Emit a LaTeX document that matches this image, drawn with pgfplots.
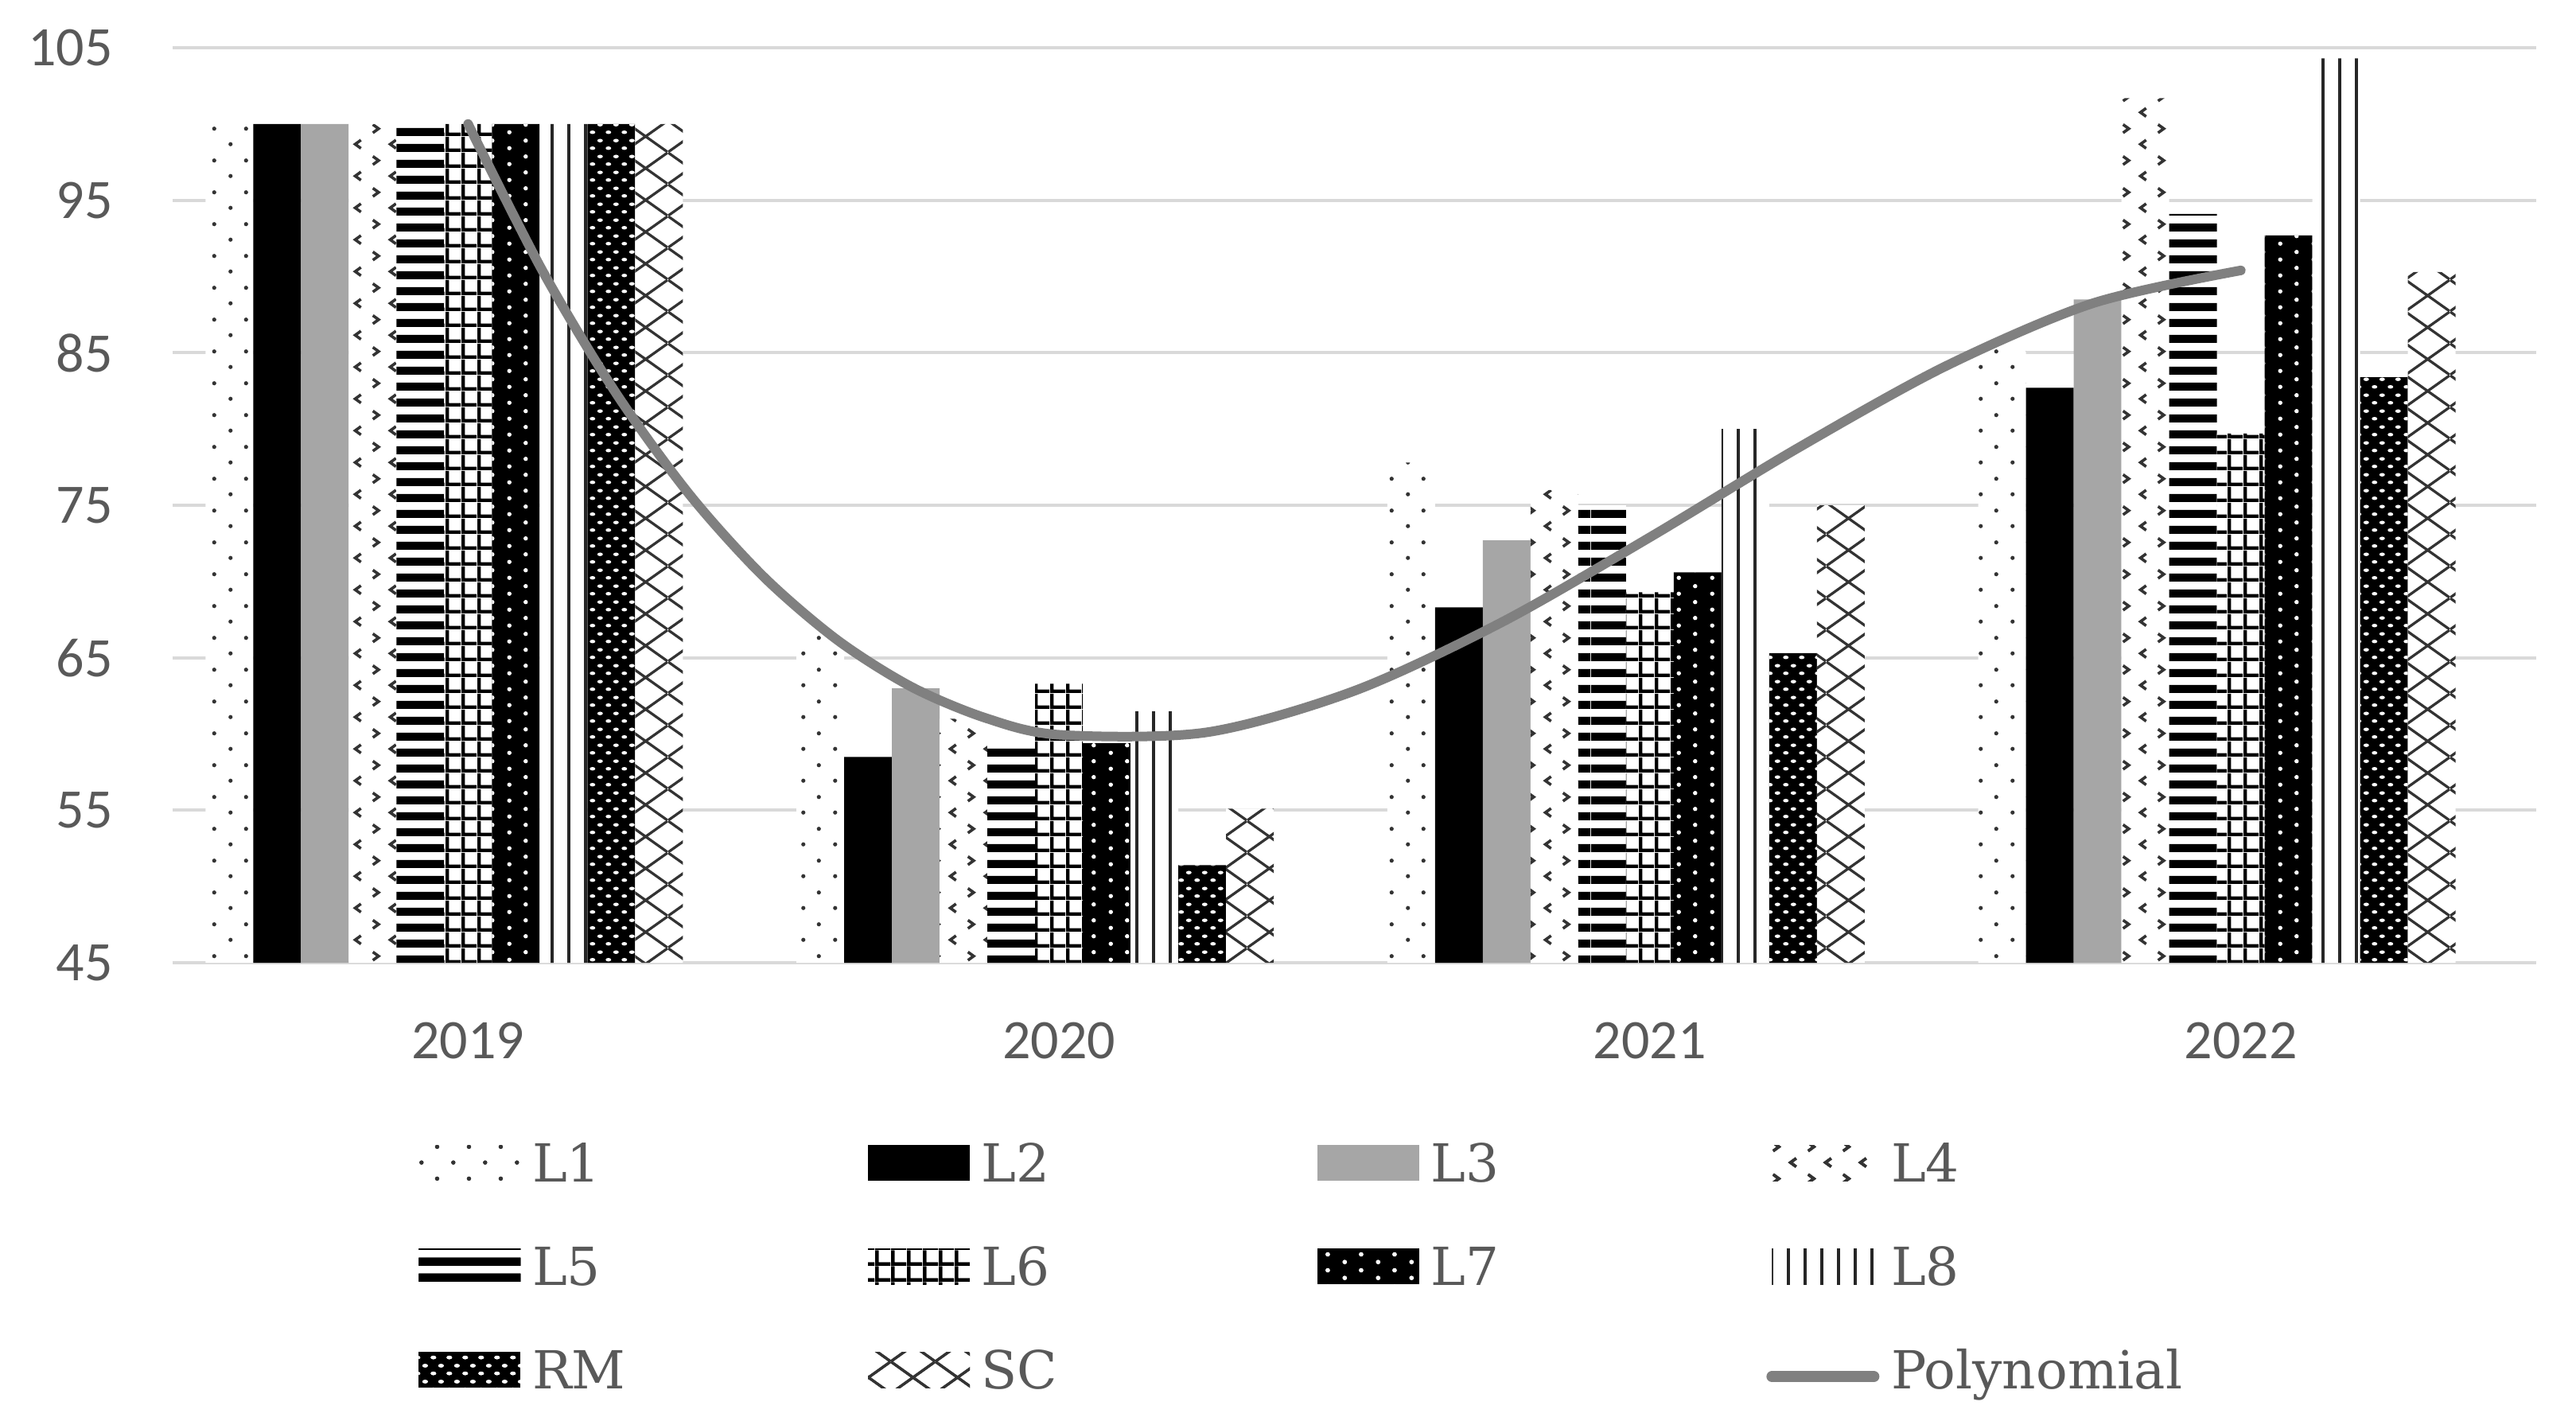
\documentclass[border=0pt]{standalone}
\usepackage{fontspec}
\usepackage{pgfplots}
\pgfplotsset{compat=1.18}
\usetikzlibrary{patterns.meta}
\newfontfamily\tickfont{Carlito}
\newfontfamily\legfont{DejaVu Serif}
\definecolor{gridc}{HTML}{D9D9D9}
\definecolor{txt}{HTML}{595959}
\definecolor{lthree}{HTML}{A6A6A6}
\definecolor{poly}{HTML}{808080}
\definecolor{pat}{HTML}{333333}

% L1 sparse staggered dots
\pgfdeclarepattern{name=pLa, type=uncolored,
  bottom left={\pgfpoint{0pt}{0pt}}, top right={\pgfpoint{6pt}{6pt}},
  tile size={\pgfpoint{6pt}{6pt}},
  code={\pgfpathcircle{\pgfpoint{1.5pt}{1.5pt}}{0.4pt}%
        \pgfpathcircle{\pgfpoint{4.5pt}{4.5pt}}{0.4pt}\pgfusepath{fill}}}
% L4 chevrons
\pgfdeclarepattern{name=pLd, type=uncolored,
  bottom left={\pgfpoint{0pt}{0pt}}, top right={\pgfpoint{6.6pt}{6pt}},
  tile size={\pgfpoint{6.6pt}{6pt}},
  code={\pgfsetlinewidth{0.55pt}%
   \pgfpathmoveto{\pgfpoint{2.1pt}{2.3pt}}\pgfpathlineto{\pgfpoint{1.0pt}{1.5pt}}\pgfpathlineto{\pgfpoint{2.1pt}{0.7pt}}%
   \pgfpathmoveto{\pgfpoint{4.4pt}{5.3pt}}\pgfpathlineto{\pgfpoint{5.5pt}{4.5pt}}\pgfpathlineto{\pgfpoint{4.4pt}{3.7pt}}%
   \pgfusepath{stroke}}}
% L5 horizontal stripes (wide tile to avoid seams)
\pgfdeclarepattern{name=pLe, type=uncolored,
  bottom left={\pgfpoint{0pt}{0pt}}, top right={\pgfpoint{60pt}{3pt}},
  tile size={\pgfpoint{60pt}{3pt}},
  code={\pgfpathrectangle{\pgfpoint{0pt}{0pt}}{\pgfpoint{60pt}{1.6pt}}\pgfusepath{fill}}}
% L6 grid
\pgfdeclarepattern{name=pLf, type=uncolored,
  bottom left={\pgfpoint{0pt}{0pt}}, top right={\pgfpoint{3pt}{3pt}},
  tile size={\pgfpoint{3pt}{3pt}},
  code={\pgfpathrectangle{\pgfpoint{0pt}{0pt}}{\pgfpoint{3pt}{0.7pt}}%
        \pgfpathrectangle{\pgfpoint{0pt}{0pt}}{\pgfpoint{0.7pt}{3pt}}\pgfusepath{fill}}}
% L7 white dots on black
\pgfdeclarepattern{name=pLg, type=uncolored,
  bottom left={\pgfpoint{0pt}{0pt}}, top right={\pgfpoint{6.3pt}{3pt}},
  tile size={\pgfpoint{6.3pt}{3pt}},
  code={\pgfpathcircle{\pgfpoint{1.575pt}{0.75pt}}{0.42pt}%
        \pgfpathcircle{\pgfpoint{4.725pt}{2.25pt}}{0.42pt}\pgfusepath{fill}}}
% L8 vertical lines (tall tile to avoid seams)
\pgfdeclarepattern{name=pLh, type=uncolored,
  bottom left={\pgfpoint{0pt}{0pt}}, top right={\pgfpoint{3.15pt}{60pt}},
  tile size={\pgfpoint{3.15pt}{60pt}},
  code={\pgfpathrectangle{\pgfpoint{0pt}{0pt}}{\pgfpoint{0.6pt}{60pt}}\pgfusepath{fill}}}
% RM dense white ovals on black
\pgfdeclarepattern{name=pRM, type=uncolored,
  bottom left={\pgfpoint{0pt}{0pt}}, top right={\pgfpoint{3pt}{3pt}},
  tile size={\pgfpoint{3pt}{3pt}},
  code={\pgfpathellipse{\pgfpoint{0.75pt}{0.75pt}}{\pgfpoint{0.55pt}{0pt}}{\pgfpoint{0pt}{0.35pt}}%
        \pgfpathellipse{\pgfpoint{2.25pt}{2.25pt}}{\pgfpoint{0.55pt}{0pt}}{\pgfpoint{0pt}{0.35pt}}\pgfusepath{fill}}}
% SC diamond lattice
\pgfdeclarepattern{name=pSC, type=uncolored,
  bottom left={\pgfpoint{0pt}{0pt}}, top right={\pgfpoint{8.4pt}{6pt}},
  tile size={\pgfpoint{8.4pt}{6pt}},
  code={\pgfsetlinewidth{0.5pt}%
   \pgfpathmoveto{\pgfpoint{0pt}{0pt}}\pgfpathlineto{\pgfpoint{8.4pt}{6pt}}%
   \pgfpathmoveto{\pgfpoint{0pt}{6pt}}\pgfpathlineto{\pgfpoint{8.4pt}{0pt}}\pgfusepath{stroke}}}

\tikzset{
  sLa/.style={fill=white, postaction={pattern=pLa, pattern color=pat}},
  sLb/.style={fill=black},
  sLc/.style={fill=lthree},
  sLd/.style={fill=white, postaction={pattern=pLd, pattern color=pat}},
  sLe/.style={fill=white, postaction={pattern=pLe, pattern color=black}},
  sLf/.style={fill=white, postaction={pattern=pLf, pattern color=black}},
  sLg/.style={fill=black, postaction={pattern=pLg, pattern color=white}},
  sLh/.style={fill=white, postaction={pattern=pLh, pattern color=black!85}},
  sRM/.style={fill=black, postaction={pattern=pRM, pattern color=white}},
  sSC/.style={fill=white, postaction={pattern=pSC, pattern color=pat}},
}
\pgfplotsset{
  bs/.style={ybar, bar width=0.08078, bar shift=#1, draw=none},
  pleg/.style={legend image code/.code={\fill[#1] (0pt,-2.4pt) rectangle (19.2pt,4.35pt);}},
}
\newcommand{\legtxt}[1]{\makebox[65.5pt][l]{\hspace{2.2pt}#1}}

\begin{document}
\begin{tikzpicture}
\begin{axis}[
  at={(0,0)}, anchor=south west,
  scale only axis, width=445.65pt, height=172.5pt,
  xmin=-0.5, xmax=3.5, ymin=45, ymax=105,
  enlargelimits=false,
  xtick={0,1,2,3}, xticklabels={2019,2020,2021,2022},
  ytick={45,55,65,75,85,95,105},
  /pgf/number format/assume math mode=true,
  tick label style={font=\tickfont\fontsize{10.5}{12}\selectfont, text=txt},
  yticklabel style={anchor=east, inner sep=0pt, xshift=-11.1pt},
  xticklabel style={anchor=north, inner sep=0pt, yshift=-11pt},
  major tick length=0pt, tick style={draw=none},
  axis line style={draw=none},
  ymajorgrids, major grid style={draw=gridc, line width=0.6pt},
  legend columns=4, legend cell align=left,
  legend style={at={(0.1037,-0.197)}, anchor=north west, draw=none, fill=none,
    inner sep=0pt, column sep=0pt, row sep=10.4pt,
    nodes={inner sep=0pt, text height=7.1pt, text depth=2pt},
    font=\legfont\fontsize{9.9}{11}\selectfont, text=txt},
]
\addplot[bs=-0.4039, sLa, pleg=sLa] coordinates {(0,100) (1,67.0) (2,77.8) (3,85.3)};
\addlegendentry{\legtxt{L1}}
\addplot[bs=-0.3231, sLb, pleg=sLb] coordinates {(0,100) (1,58.5) (2,68.3) (3,82.7)};
\addlegendentry{\legtxt{L2}}
\addplot[bs=-0.2423, sLc, pleg=sLc] coordinates {(0,100) (1,63.0) (2,72.7) (3,88.5)};
\addlegendentry{\legtxt{L3}}
\addplot[bs=-0.1616, sLd, pleg=sLd] coordinates {(0,100) (1,61.0) (2,76.0) (3,101.7)};
\addlegendentry{\legtxt{L4}}
\addplot[bs=-0.0808, sLe, pleg=sLe] coordinates {(0,100) (1,59.5) (2,75.0) (3,94.1)};
\addlegendentry{\legtxt{L5}}
\addplot[bs=0, sLf, pleg=sLf] coordinates {(0,100) (1,63.3) (2,69.3) (3,79.7)};
\addlegendentry{\legtxt{L6}}
\addplot[bs=0.0808, sLg, pleg=sLg] coordinates {(0,100) (1,59.4) (2,70.6) (3,92.7)};
\addlegendentry{\legtxt{L7}}
\addplot[bs=0.1616, sLh, pleg=sLh] coordinates {(0,100) (1,61.5) (2,80.0) (3,104.3)};
\addlegendentry{\legtxt{L8}}
\addplot[bs=0.2423, sRM, pleg=sRM] coordinates {(0,100) (1,51.4) (2,65.3) (3,83.4)};
\addlegendentry{\legtxt{RM}}
\addplot[bs=0.3231, sSC, pleg=sSC] coordinates {(0,100) (1,55.1) (2,75.0) (3,90.3)};
\addlegendentry{\legtxt{SC}}
\addlegendimage{empty legend}
\addlegendentry{\legtxt{}}
\addplot[smooth, no markers, color=poly, line width=1.8pt, line cap=round,
  legend image code/.code={\draw[poly, line width=2.1pt] (0pt,-0.3pt) -- (19.2pt,-0.3pt);}]
  coordinates {(0,100) (0.125,90.44) (0.25,82.37) (0.375,75.69) (0.5,70.32) (0.625,66.16)
  (0.75,63.10) (0.875,61.06) (1,59.95) (1.25,60.11) (1.5,62.83) (1.75,67.34) (2,72.9)
  (2.25,78.74) (2.5,84.11) (2.75,88.25) (3,90.40)};
\addlegendentry{\legtxt{Polynomial}}
\end{axis}
\pgfresetboundingbox
\path[use as bounding box] (-32.55pt,-87pt) rectangle (453.15pt,181.5pt);
\end{tikzpicture}
\end{document}
